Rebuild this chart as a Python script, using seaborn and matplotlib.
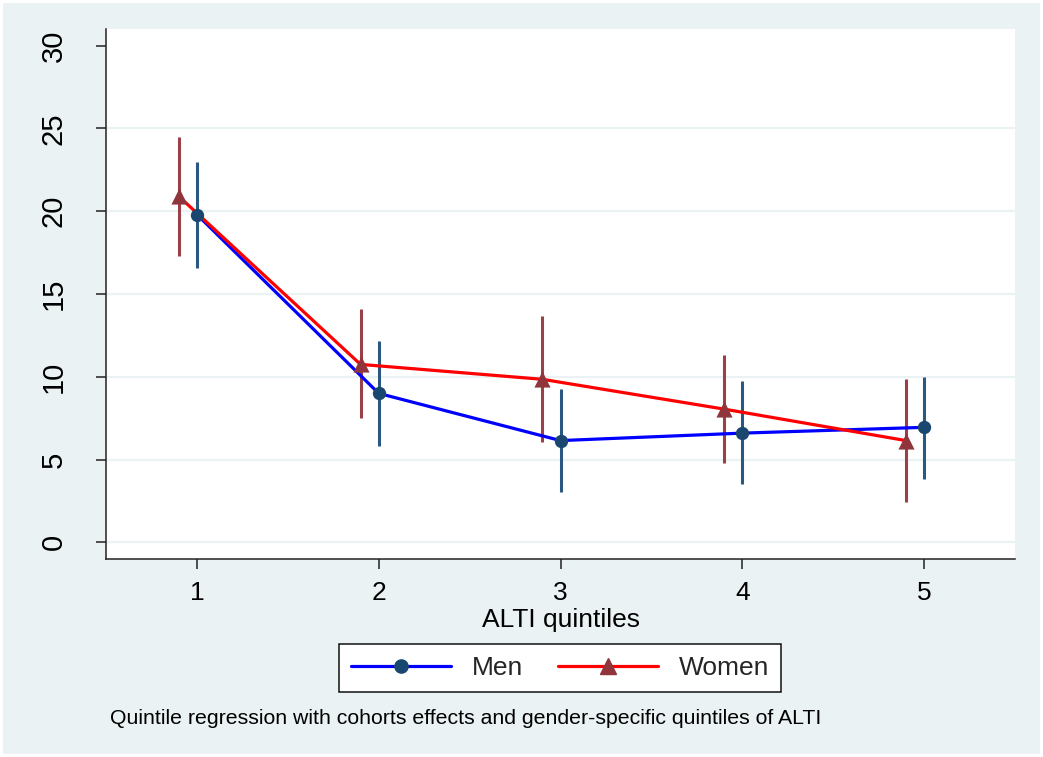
import matplotlib
matplotlib.use("Agg")
import matplotlib.pyplot as plt
from matplotlib.lines import Line2D
from matplotlib.patches import Rectangle
import seaborn as sns
import pandas as pd
import numpy as np

# ---- data ----
quintiles = [1, 2, 3, 4, 5]
men_est = [19.8, 9.0, 6.15, 6.6, 6.95]
men_lo = [16.6, 5.85, 3.05, 3.5, 3.85]
men_hi = [22.95, 12.15, 9.25, 9.75, 10.0]
women_est = [20.9, 10.75, 9.85, 8.05, 6.15]
women_lo = [17.3, 7.5, 6.05, 4.8, 2.45]
women_hi = [24.5, 14.1, 13.7, 11.3, 9.85]
women_offset = -0.1
y_ticks = [0, 5, 10, 15, 20, 25, 30]
x_label = "ALTI quintiles"
caption = "Quintile regression with cohorts effects and gender-specific quintiles of ALTI"

BG = "#EAF2F3"
BLUE = "#0000FF"
RED = "#FF0000"
NAVY = "#1A476F"
NAVY_SPIKE = "#2B5880"
MAROON = "#90353B"
MAROON_SPIKE = "#9A4048"

sns.set_theme(style="white")
plt.rcParams["font.family"] = ["Liberation Sans", "DejaVu Sans"]

df = pd.DataFrame({
    "x": list(np.array(quintiles, dtype=float)) + list(np.array(quintiles, dtype=float) + women_offset),
    "est": men_est + women_est,
    "lo": men_lo + women_lo,
    "hi": men_hi + women_hi,
    "group": ["Men"] * 5 + ["Women"] * 5,
})
men = df[df.group == "Men"]
women = df[df.group == "Women"]

fig = plt.figure(figsize=(10.43, 7.57), dpi=100)
fig.patch.set_facecolor("white")
fig.patches.append(Rectangle((3 / 1043, 3 / 757), 1037 / 1043, 751 / 757,
                             transform=fig.transFigure, facecolor=BG,
                             edgecolor="none", zorder=-10))

ax = fig.add_axes([106 / 1043, 1 - 559 / 757, 909 / 1043, (559 - 29) / 757])
ax.set_facecolor("white")

# spikes (confidence intervals)
ax.vlines(men["x"], men["lo"], men["hi"], color=NAVY_SPIKE, lw=2.2, zorder=2)
ax.vlines(women["x"], women["lo"], women["hi"], color=MAROON_SPIKE, lw=2.2, zorder=2)

# connecting lines
sns.lineplot(data=df, x="x", y="est", hue="group", palette={"Men": BLUE, "Women": RED},
             lw=2.3, ax=ax, legend=False, zorder=3, estimator=None, sort=True)

# markers
sns.scatterplot(data=men, x="x", y="est", color=NAVY, marker="o", s=92,
                edgecolor=NAVY, linewidth=0, ax=ax, zorder=4, legend=False)
sns.scatterplot(data=women, x="x", y="est", color=MAROON, marker="^", s=135,
                edgecolor=MAROON, linewidth=0, ax=ax, zorder=4, legend=False)

ax.set_xlim(0.5, 5.5)
ax.set_ylim(-1.0, 31.0)
ax.set_xticks(quintiles)
ax.set_xticklabels([str(q) for q in quintiles])
ax.set_yticks(y_ticks)
ax.set_yticklabels([str(t) for t in y_ticks], rotation=90, va="center")

ax.yaxis.grid(True, color=BG, lw=1.6)
ax.set_axisbelow(True)
ax.get_ygridlines()[-1].set_visible(False)

for s in ["top", "right"]:
    ax.spines[s].set_visible(False)
for s in ["left", "bottom"]:
    ax.spines[s].set_color("#222222")
    ax.spines[s].set_linewidth(1.1)

ax.tick_params(axis="both", which="major", direction="out", length=7, width=1.1,
               color="#222222", labelcolor="black")
ax.tick_params(axis="x", labelsize=19, pad=9)
ax.tick_params(axis="y", labelsize=21, pad=20.5)
ax.tick_params(left=True, bottom=True)

ax.set_xlabel(x_label, fontsize=19, labelpad=2, color="black")
ax.set_ylabel("")

handles = [
    Line2D([0], [0], color=BLUE, lw=2.3, marker="o", markersize=9.5,
           markerfacecolor=NAVY, markeredgecolor=NAVY),
    Line2D([0], [0], color=RED, lw=2.3, marker="^", markersize=11,
           markerfacecolor=MAROON, markeredgecolor=MAROON),
]
leg = fig.legend(handles, ["Men", "Women"], loc="center",
                 bbox_to_anchor=(560 / 1043, 1 - 668 / 757), ncol=2,
                 fontsize=19, handlelength=3.8, handletextpad=0.8,
                 columnspacing=1.3, frameon=True, fancybox=False,
                 borderpad=0.45, borderaxespad=0)
leg.get_frame().set_edgecolor("#111111")
leg.get_frame().set_linewidth(1.1)
leg.get_frame().set_facecolor("white")
leg.get_frame().set_alpha(1)

fig.text(110 / 1043, 1 - 718 / 757, caption, ha="left", va="center",
         fontsize=15.3, color="black")

fig.savefig("out.png", dpi=100, facecolor=fig.get_facecolor())
